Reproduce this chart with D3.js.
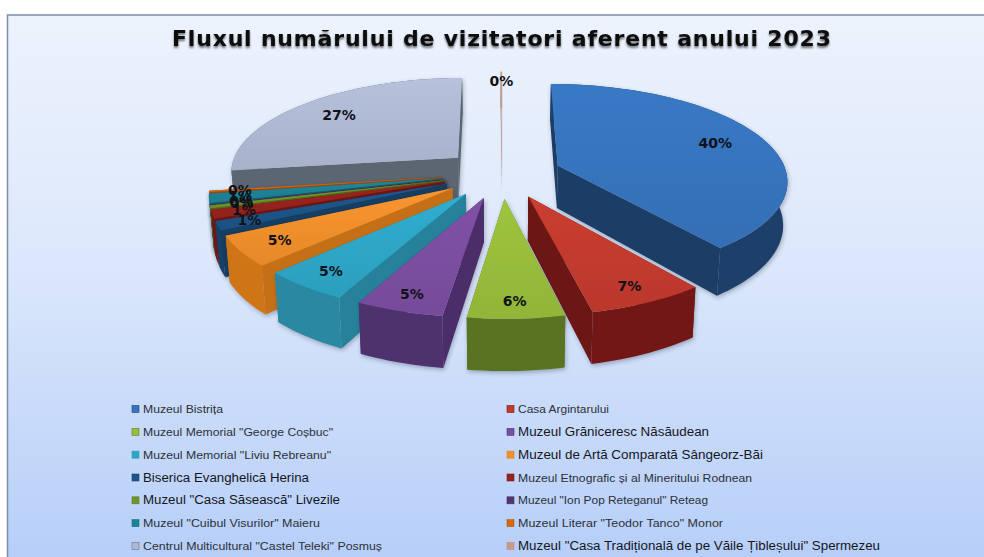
<!DOCTYPE html>
<html>

<head>
    <meta charset='utf-8'>
    <title>Fluxul numărului de vizitatori</title>
    <script src='https://cdn.jsdelivr.net/npm/d3@7'></script>
    <style>
        html, body { margin: 0; padding: 0; background: #fff; }
        svg { display: block; }
    </style>
</head>

<body>
    <svg width='984' height='557'></svg>
    <script>
        const chartTitle = 'Fluxul numărului de vizitatori aferent anului 2023'
        const categories = [
            'Muzeul Bistrița', 'Casa Argintarului',
            'Muzeul Memorial "George Coșbuc"', 'Muzeul Grăniceresc Năsăudean',
            'Muzeul Memorial "Liviu Rebreanu"', 'Muzeul de Artă Comparată Sângeorz-Băi',
            'Biserica Evanghelică Herina', 'Muzeul Etnografic și al Mineritului Rodnean',
            'Muzeul "Casa Săsească" Livezile', 'Muzeul "Ion Pop Reteganul" Reteag',
            'Muzeul "Cuibul Visurilor" Maieru', 'Muzeul Literar "Teodor Tanco" Monor',
            'Centrul Multicultural "Castel Teleki" Posmuș', 'Muzeul "Casa Tradițională de pe Văile Țibleșului" Spermezeu'
        ]
        // procente
        const values = [39.5, 7, 5.7, 5.2, 5.2, 5, 1.49, 1.4, 0.45, 0.1, 1.49, 0.27, 27.1, 0.1]
        const topColors = ['#3674bd', '#c23a2e', '#97bd3a', '#7b4ea0', '#2ea6c6', '#f08f2c', '#1f5488', '#96231c', '#71942a', '#523672', '#1f8296', '#d46a12', '#aeb9d3', '#c99a88']
        const wallColors = ['#1d3d66', '#6d1612', '#566e20', '#4b2e69', '#27829b', '#c56f17', '#163c62', '#6d1612', '#4f6a1d', '#3a264f', '#175f6e', '#9a4c0c', '#5c6572', '#a77c6b']
        // lungimea fiecarei etichete din legenda, in pixeli
        const legendWidths = [80, 91, 190, 191, 188, 245, 166, 234, 197, 190, 177, 205, 239, 362]
        const narrowLegend = [true, true, true, false, true, false, false, true, false, true, true, true, true, false]

        const svg = d3.select('svg')
        const view = { cx: 502, cy: 173.5, radius: 229, tilt: 0.415, persp: 0.14, explode: 0.26, depth: 43 }

        const defs = svg.append('defs')
        const bg = defs.append('linearGradient').attr('id', 'bg').attr('x1', 0).attr('y1', 0).attr('x2', 0).attr('y2', 1)
        bg.append('stop').attr('offset', '0%').attr('stop-color', '#edf3fd')
        bg.append('stop').attr('offset', '45%').attr('stop-color', '#dbe7fb')
        bg.append('stop').attr('offset', '100%').attr('stop-color', '#b4cdf8')

        const shadow = defs.append('filter').attr('id', 'shadow').attr('x', '-10%').attr('y', '-10%').attr('width', '125%').attr('height', '125%')
        shadow.append('feDropShadow').attr('dx', 1).attr('dy', 2).attr('stdDeviation', 2).attr('flood-color', '#26303f').attr('flood-opacity', 0.35)
        const titleShadow = defs.append('filter').attr('id', 'titleShadow')
        titleShadow.append('feDropShadow').attr('dx', 0).attr('dy', 2).attr('stdDeviation', 1.2).attr('flood-color', '#000').attr('flood-opacity', 0.55)

        values.forEach((v, i) => {
            const base = d3.color(topColors[i])
            const grad = defs.append('linearGradient').attr('id', `top${i}`).attr('x1', 0).attr('y1', 0).attr('x2', 0).attr('y2', 1)
            grad.append('stop').attr('offset', '0%').attr('stop-color', base.brighter(0.12))
            grad.append('stop').attr('offset', '100%').attr('stop-color', base.darker(0.12))
        })

        // fundalul
        svg.append('rect').attr('x', 7.5).attr('y', 15).attr('width', 990).attr('height', 560)
            .attr('fill', 'url(#bg)').attr('stroke', '#7d8ca8').attr('stroke-width', 1.5)

        svg.append('text').attr('x', 172).attr('y', 46)
            .attr('textLength', 659).attr('lengthAdjust', 'spacing')
            .style('font', 'bold 22px "DejaVu Sans"').attr('fill', '#0b0b0b')
            .attr('filter', 'url(#titleShadow)').text(chartTitle)

        // proiectia in perspectiva: r si unghi in planul placintei
        function project(slice, angle, r, low) {
            const off = view.explode
            const X = off * Math.sin(slice.mid) + r * Math.sin(angle)
            const Z = off * Math.cos(slice.mid) + r * Math.cos(angle)
            const s = 1 / (1 + view.persp * Z)
            const shrink = low ? 0.985 : 1
            return [
                view.cx + X * view.radius * s * shrink,
                view.cy - Z * view.tilt * view.radius * s + (low ? view.depth * s : 0)
            ]
        }

        const line = d3.line()
        const pie = d3.pie().sort(null).value(d => d).startAngle(0).endAngle(2 * Math.PI)
        const slices = pie(values).map(d => ({ ...d, mid: (d.startAngle + d.endAngle) / 2 }))

        function arcAngles(d) {
            const n = Math.max(2, Math.ceil((d.endAngle - d.startAngle) / 0.03))
            return d3.range(n + 1).map(i => d.startAngle + (d.endAngle - d.startAngle) * i / n)
        }

        function topPath(d) {
            return line([project(d, 0, 0, false), ...arcAngles(d).map(a => project(d, a, 1, false))]) + 'Z'
        }

        function sideWall(d, angle) {
            return line([project(d, 0, 0, false), project(d, angle, 1, false), project(d, angle, 1, true), project(d, 0, 0, true)]) + 'Z'
        }

        function outerWall(d) {
            const a = arcAngles(d)
            return line([...a.map(t => project(d, t, 1, false)), ...a.slice().reverse().map(t => project(d, t, 1, true))]) + 'Z'
        }

        // intai feliile din spate
        const drawOrder = slices.slice().sort((a, b) => Math.cos(b.mid) - Math.cos(a.mid))
        const sliceGroups = svg.append('g').selectAll('g').data(drawOrder).join('g').attr('filter', 'url(#shadow)')

        sliceGroups.each(function (d) {
            const g = d3.select(this)
            const walls = [
                { z: Math.cos(d.startAngle) / 2, path: sideWall(d, d.startAngle), color: wallColors[d.index] },
                { z: Math.cos(d.endAngle) / 2, path: sideWall(d, d.endAngle), color: wallColors[d.index] },
                { z: d3.mean(arcAngles(d), Math.cos) * 0.9, path: outerWall(d), color: d3.color(wallColors[d.index]).brighter(0.12) }
            ].sort((a, b) => b.z - a.z)
            walls.forEach(w => g.append('path').attr('d', w.path).attr('fill', w.color))
            g.append('path').attr('d', topPath(d)).attr('fill', `url(#top${d.index})`)
        })

        function labelRadius(d) {
            if (d.value < 2) return 0.87
            return 0.77 + 0.1 * Math.max(0, -Math.cos(d.mid))
        }

        svg.append('g').selectAll('text').data(slices).join('text')
            .attr('text-anchor', 'middle')
            .style('font', 'bold 14px "DejaVu Sans"')
            .attr('fill', '#10121a')
            .attr('x', d => project(d, d.mid, labelRadius(d), false)[0])
            .attr('y', d => project(d, d.mid, labelRadius(d), false)[1] + 5)
            .text(d => `${Math.round(d.value)}%`)

        // legenda pe doua coloane
        const colX = d3.scaleOrdinal().domain([0, 1]).range([132, 507])
        const rowY = d3.scaleLinear().domain([0, 6]).range([409, 546])
        const legend = svg.append('g').selectAll('g').data(categories).join('g')
            .attr('transform', (d, i) => `translate(${colX(i % 2)}, ${rowY(Math.floor(i / 2))})`)
        legend.append('rect').attr('x', 0).attr('y', -3.5).attr('width', 7).attr('height', 7)
            .attr('fill', (d, i) => topColors[i]).attr('stroke', (d, i) => d3.color(wallColors[i]).brighter(0.4)).attr('stroke-width', 0.6)
        legend.append('text').attr('x', 11).attr('y', 4)
            .attr('textLength', (d, i) => legendWidths[i]).attr('lengthAdjust', 'spacingAndGlyphs')
            .style('font-family', (d, i) => narrowLegend[i] ? '"Liberation Sans Narrow", "Liberation Sans"' : '"Liberation Sans"')
            .style('font-size', (d, i) => narrowLegend[i] ? '10.5px' : '12px')
            .attr('fill', (d, i) => narrowLegend[i] ? '#2c3038' : '#14161c')
            .text(d => d)
    </script>
</body>

</html>
